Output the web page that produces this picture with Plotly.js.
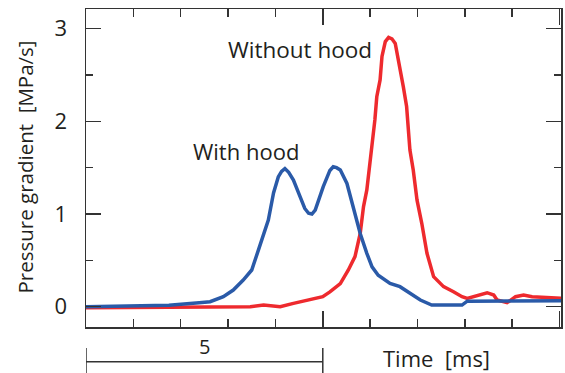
<!DOCTYPE html>
<html>
<head>
<meta charset="utf-8">
<script src="https://cdn.plot.ly/plotly-3.0.1.min.js"></script>
<style>html,body{margin:0;padding:0;background:#fff;}#chart{width:565px;height:373px;}</style>
</head>
<body>
<div id="chart"></div>
<script>
// With hood (blue)
const withX = [0, 1.75, 2.39, 2.62, 2.90, 3.11, 3.32, 3.50, 3.64, 3.75, 3.85, 3.96, 4.06, 4.13, 4.20, 4.28, 4.38, 4.52, 4.62, 4.70, 4.77, 4.84, 5.01, 5.15, 5.22, 5.29, 5.37, 5.51, 5.65, 5.79, 5.93, 6.04, 6.17, 6.42, 6.63, 6.84, 7.06, 7.30, 7.94, 8.05, 10.03];
const withY = [0, 0.015, 0.043, 0.054, 0.108, 0.18, 0.288, 0.396, 0.61, 0.795, 0.935, 1.227, 1.40, 1.46, 1.49, 1.45, 1.367, 1.187, 1.06, 1.008, 1.0, 1.043, 1.295, 1.47, 1.51, 1.50, 1.475, 1.33, 1.043, 0.79, 0.576, 0.43, 0.34, 0.25, 0.216, 0.145, 0.072, 0.018, 0.018, 0.06, 0.065];
// Without hood (red)
const withoutX = [0, 3.47, 3.75, 4.10, 4.38, 4.73, 5.00, 5.15, 5.37, 5.54, 5.68, 5.79, 5.86, 5.93, 6.00, 6.03, 6.10, 6.14, 6.21, 6.25, 6.32, 6.39, 6.46, 6.53, 6.63, 6.70, 6.77, 6.84, 6.91, 6.99, 7.09, 7.20, 7.34, 7.55, 7.76, 7.94, 8.05, 8.29, 8.47, 8.61, 8.68, 8.89, 9.07, 9.24, 9.42, 10.03];
const withoutY = [-0.01, 0.0, 0.018, 0.0, 0.036, 0.072, 0.108, 0.16, 0.25, 0.396, 0.54, 0.79, 1.08, 1.26, 1.55, 1.70, 2.015, 2.265, 2.447, 2.70, 2.86, 2.905, 2.89, 2.84, 2.59, 2.375, 2.16, 1.69, 1.475, 1.15, 0.9, 0.576, 0.324, 0.216, 0.162, 0.108, 0.09, 0.126, 0.151, 0.126, 0.072, 0.043, 0.108, 0.126, 0.108, 0.09];
const yTickVals = [0, 1, 2, 3];
const yTickText = ['0', '1', '2', '3'];
const scaleBar = [0, 5];
const scaleLabel = '5';

const font = 'Open Sans, Noto Sans, sans-serif';
const ink = '#231f20';

const traces = [
  {x: withoutX, y: withoutY, mode: 'lines', line: {color: '#ee2a2e', width: 3.5}, hoverinfo: 'skip'},
  {x: withX, y: withY, mode: 'lines', line: {color: '#2a5aa8', width: 3.5}, hoverinfo: 'skip'}
];

const layout = {
  width: 565, height: 373,
  margin: {l: 86, r: 4, t: 9, b: 46},
  paper_bgcolor: '#fff', plot_bgcolor: '#fff',
  showlegend: false,
  font: {family: font, size: 18, color: ink},
  xaxis: {
    range: [0, 10.03], showgrid: false, zeroline: false,
    showline: true, linecolor: '#333', linewidth: 1.5, mirror: 'ticks',
    ticks: 'inside', tick0: 0, dtick: 5, ticklen: 16, tickwidth: 1.5, tickcolor: '#333',
    minor: {ticks: 'inside', dtick: 1, ticklen: 8, tickwidth: 1.5, tickcolor: '#333'},
    showticklabels: false
  },
  yaxis: {
    range: [-0.219, 3.212], showgrid: false, zeroline: false,
    showline: true, linecolor: '#333', linewidth: 1.5, mirror: 'ticks',
    ticks: 'inside', tickvals: yTickVals, ticktext: yTickText, ticklen: 15, tickwidth: 1.5, tickcolor: '#333',
    minor: {ticks: 'inside', dtick: 0.5, ticklen: 7, tickwidth: 1.5, tickcolor: '#333'},
    tickfont: {size: 22, color: ink}, ticklabelstandoff: 13
  },
  annotations: [
    {text: 'Without hood', x: 4.51, y: 2.77, xref: 'x', yref: 'y', showarrow: false, xanchor: 'center', yanchor: 'middle', font: {size: 22.5}},
    {text: 'With hood', x: 3.38, y: 1.685, xref: 'x', yref: 'y', showarrow: false, xanchor: 'center', yanchor: 'middle', font: {size: 22}},
    {text: 'Pressure gradient  [MPa/s]', x: (25 - 86) / 475, y: (327 - 167.5) / 318, xref: 'paper', yref: 'paper', showarrow: false, textangle: -90, xanchor: 'center', yanchor: 'middle', font: {size: 20.5}},
    {text: 'Time  [ms]', x: (436 - 86) / 475, y: (327 - 358) / 318, xref: 'paper', yref: 'paper', showarrow: false, xanchor: 'center', yanchor: 'middle', font: {size: 22}},
    {text: scaleLabel, x: (scaleBar[0] + scaleBar[1]) / 2, y: (327 - 346.7) / 318, xref: 'x', yref: 'paper', showarrow: false, xanchor: 'center', yanchor: 'middle', font: {size: 20}}
  ],
  shapes: [
    {type: 'line', xref: 'x', yref: 'paper', x0: scaleBar[0], x1: scaleBar[1], y0: (327 - 361.7) / 318, y1: (327 - 361.7) / 318, line: {color: '#333', width: 1.5}},
    {type: 'line', xref: 'x', yref: 'paper', x0: scaleBar[0], x1: scaleBar[0], y0: (327 - 348) / 318, y1: (327 - 374) / 318, line: {color: '#333', width: 1.5}},
    {type: 'line', xref: 'x', yref: 'paper', x0: scaleBar[1], x1: scaleBar[1], y0: (327 - 348) / 318, y1: (327 - 374) / 318, line: {color: '#333', width: 1.5}}
  ]
};

Plotly.newPlot('chart', traces, layout, {staticPlot: true, displayModeBar: false});
</script>
</body>
</html>
